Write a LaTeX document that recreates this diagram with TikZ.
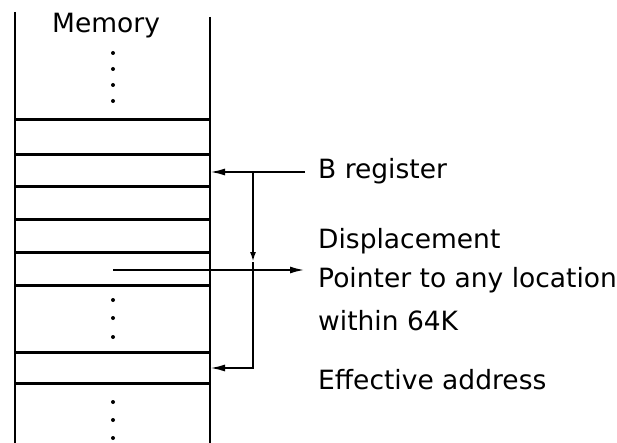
\documentclass[tikz,border=0pt]{standalone}
\usepackage{fontspec}
\setmainfont{DejaVu Sans}
\usetikzlibrary{arrows.meta}
\begin{document}
\begin{tikzpicture}[x=1pt,y=-1pt,
  wall/.style={line width=1.8pt},
  cell/.style={line width=3pt},
  conn/.style={line width=2pt},
  tip/.style={-{Latex[length=15pt,width=7pt]}},
  smalltip/.style={-{Latex[length=10pt,width=6pt]}},
  lbl/.style={anchor=base west,inner sep=0pt,font=\fontsize{26.5}{30}\selectfont},
  dot/.style={circle,fill=black,inner sep=0pt,minimum size=4pt}]
\useasboundingbox (0,0) rectangle (617,443);
% memory walls
\draw[wall] (15,12) -- (15,443);
\draw[wall] (210,17) -- (210,443);
% cell boundaries
\foreach \yy in {120,155,187,220,252,285,352,383}
  \draw[cell] (15,\yy) -- (210,\yy);
% title
\node[lbl] (mem) at (52,33) {Memory};
% dots
\foreach \yy/\n in {53/a,69/b,85/c,101/d,300/e,318/f,337/g,402/h,420/i,438/j}
  \node[dot] (dot\n) at (113,\yy) {};
% labels
\node[lbl] (breg) at (318,179) {B register};
\node[lbl] (disp) at (318,248) {Displacement};
\node[lbl] (ptr) at (318,287) {Pointer to any location};
\node[lbl] (ptr2) at (318,330) {within 64K};
\node[lbl] (eff) at (318,389) {Effective address};
% connector coordinates
\coordinate (bsrc) at (305,172);
\coordinate (bdst) at (210,172);
\coordinate (vtop) at (253,172);
\coordinate (vmid) at (253,262);
\coordinate (vbot) at (253,368);
\coordinate (edst) at (210,368);
\coordinate (pstart) at (113,270);
\coordinate (pend) at (305,270);
% connectors
\draw[conn,tip] (bsrc) -- (bdst);
\draw[conn,smalltip] (vtop) -- (vmid);
\draw[conn,tip] (vmid) -- (vbot) -- (edst);
\draw[conn,line width=2.2pt,tip] (pstart) -- (pend);
\end{tikzpicture}
\end{document}
